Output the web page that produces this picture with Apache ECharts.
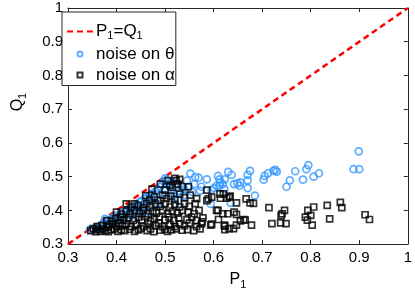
<!DOCTYPE html>
<html>
<head>
<meta charset="utf-8">
<script src="https://cdn.jsdelivr.net/npm/echarts@6/dist/echarts.min.js"></script>
<style>html,body{margin:0;padding:0;background:#fff;}#c{width:415px;height:295px;}</style>
</head>
<body>
<div id="c"></div>
<script>
// ---- data ----
const axisMin = 0.3, axisMax = 1, tickStep = 0.1;
const diagonal = [[0.3, 0.3], [1, 1]];
const seriesNames = ['P1=Q1', 'noise on θ', 'noise on α'];

const noiseTheta = [
  [0.345,0.342],[0.352,0.345],[0.358,0.350],[0.362,0.348],[0.368,0.356],[0.372,0.360],[0.378,0.362],
  [0.383,0.368],[0.388,0.372],[0.392,0.378],[0.397,0.380],[0.402,0.386],[0.405,0.375],[0.410,0.392],
  [0.415,0.395],[0.418,0.385],[0.422,0.402],[0.428,0.405],[0.432,0.398],[0.436,0.412],[0.440,0.418],
  [0.445,0.410],[0.448,0.425],[0.452,0.428],[0.455,0.418],[0.460,0.435],[0.463,0.440],[0.466,0.428],
  [0.470,0.445],[0.474,0.450],[0.477,0.438],[0.480,0.456],[0.484,0.462],[0.487,0.448],[0.490,0.470],
  [0.494,0.476],[0.497,0.486],[0.500,0.495],[0.503,0.490],[0.506,0.478],[0.510,0.470],[0.512,0.460],
  [0.515,0.485],[0.518,0.452],[0.520,0.440],[0.524,0.468],[0.527,0.430],[0.530,0.458],[0.534,0.475],
  [0.538,0.445],[0.540,0.462],[0.545,0.488],[0.548,0.470],[0.552,0.509],[0.556,0.455],[0.560,0.478],
  [0.562,0.499],[0.569,0.497],[0.572,0.458],[0.575,0.470],
  [0.430,0.385],[0.450,0.400],[0.470,0.415],[0.490,0.430],[0.500,0.445],[0.460,0.395],[0.440,0.390],
  [0.485,0.420],[0.395,0.362],[0.375,0.350],[0.420,0.370],[0.406,0.371],[0.376,0.375],
  [0.586,0.492],[0.596,0.461],[0.601,0.466],[0.606,0.473],[0.609,0.502],[0.612,0.492],[0.614,0.483],
  [0.612,0.473],[0.619,0.478],[0.622,0.463],[0.623,0.492],[0.630,0.514],[0.637,0.505],[0.594,0.419],
  [0.635,0.422],[0.642,0.478],[0.649,0.480],[0.653,0.473],[0.655,0.483],[0.670,0.466],[0.670,0.489],
  [0.670,0.505],[0.675,0.517],[0.685,0.444],[0.703,0.491],[0.705,0.502],[0.712,0.510],[0.723,0.517],
  [0.727,0.520],[0.730,0.515],[0.750,0.470],[0.757,0.489],[0.768,0.516],[0.784,0.491],[0.791,0.522],
  [0.795,0.534],[0.806,0.500],[0.817,0.510],[0.888,0.522],[0.900,0.522],[0.899,0.575]
];

const noiseAlpha = [
  [0.347,0.340],[0.352,0.346],[0.357,0.337],[0.362,0.343],[0.367,0.338],[0.372,0.345],[0.377,0.340],
  [0.383,0.337],[0.389,0.342],[0.395,0.345],[0.403,0.338],[0.410,0.342],[0.417,0.340],[0.427,0.344],
  [0.437,0.338],[0.445,0.342],[0.450,0.346],[0.463,0.340],[0.470,0.345],[0.477,0.337],[0.490,0.341],
  [0.499,0.344],[0.505,0.338],[0.513,0.342],[0.523,0.345],[0.535,0.341],[0.546,0.343],[0.559,0.340],
  [0.572,0.345],[0.565,0.352],
  [0.360,0.352],[0.370,0.355],[0.380,0.350],[0.385,0.358],[0.392,0.360],[0.400,0.352],[0.405,0.362],
  [0.412,0.355],[0.420,0.360],[0.430,0.352],[0.440,0.358],[0.455,0.352],[0.465,0.360],[0.480,0.355],
  [0.487,0.362],[0.495,0.352],[0.510,0.358],[0.520,0.352],[0.530,0.360],[0.540,0.355],[0.550,0.362],
  [0.575,0.360],
  [0.380,0.370],[0.390,0.368],[0.398,0.375],[0.408,0.380],[0.415,0.372],[0.425,0.378],[0.435,0.370],
  [0.445,0.380],[0.452,0.372],[0.460,0.382],[0.470,0.368],[0.478,0.375],[0.488,0.380],[0.500,0.372],
  [0.508,0.380],[0.518,0.370],[0.528,0.378],[0.545,0.372],[0.555,0.380],[0.565,0.370],[0.578,0.378],
  [0.400,0.395],[0.410,0.388],[0.420,0.398],[0.428,0.390],[0.437,0.400],[0.447,0.392],[0.455,0.400],
  [0.465,0.390],[0.475,0.398],[0.482,0.392],[0.495,0.400],[0.505,0.390],[0.515,0.398],[0.525,0.392],
  [0.535,0.400],[0.548,0.395],[0.560,0.390],[0.570,0.400],
  [0.420,0.419],[0.430,0.410],[0.437,0.419],[0.445,0.415],[0.455,0.408],[0.462,0.420],[0.470,0.410],
  [0.480,0.418],[0.490,0.412],[0.500,0.420],[0.510,0.410],[0.520,0.418],[0.530,0.410],[0.540,0.420],
  [0.550,0.412],[0.562,0.420],
  [0.460,0.444],[0.468,0.432],[0.478,0.440],[0.485,0.430],[0.495,0.445],[0.503,0.435],[0.512,0.442],
  [0.520,0.432],[0.530,0.448],[0.540,0.438],[0.552,0.445],[0.565,0.435],
  [0.473,0.463],[0.490,0.478],[0.500,0.460],[0.506,0.488],[0.515,0.468],[0.523,0.488],[0.526,0.478],
  [0.536,0.470],[0.548,0.470],[0.530,0.492],[0.520,0.495],[0.510,0.475],
  [0.586,0.429],[0.596,0.439],[0.609,0.400],[0.629,0.390],[0.613,0.449],[0.632,0.439],[0.632,0.346],
  [0.622,0.356],[0.596,0.359],[0.576,0.366],
  [0.586,0.460],[0.589,0.434],[0.594,0.356],[0.610,0.373],[0.606,0.400],[0.614,0.436],[0.619,0.390],
  [0.620,0.449],[0.623,0.353],[0.623,0.343],[0.627,0.436],[0.634,0.442],[0.642,0.395],[0.647,0.388],
  [0.641,0.346],[0.647,0.422],[0.647,0.356],[0.655,0.369],[0.662,0.373],[0.667,0.434],[0.665,0.371],
  [0.675,0.422],[0.682,0.421],[0.678,0.356],[0.714,0.408],[0.720,0.361],[0.738,0.363],[0.739,0.385],
  [0.741,0.390],[0.746,0.400],[0.749,0.361],[0.789,0.380],[0.793,0.371],[0.794,0.400],[0.800,0.385],
  [0.803,0.356],[0.806,0.410],[0.834,0.415],[0.839,0.375],[0.861,0.424],[0.864,0.408],[0.912,0.387],
  [0.921,0.373]
];

// ---- chart ----
const chart = echarts.init(document.getElementById('c'), null, {renderer: 'canvas'});
const FONT = 'Liberation Sans, Arial, Helvetica, sans-serif';
const AX = '#262626';
const fmt = v => String(+v.toFixed(1));

function axisCommon(extra) {
  return Object.assign({
    type: 'value', min: axisMin, max: axisMax, interval: tickStep,
    splitLine: {show: false},
    axisLine: {show: true, lineStyle: {color: AX, width: 1}},
    axisTick: {show: true, inside: true, length: 4, lineStyle: {color: AX}},
  }, extra);
}

const nameRich = {
  a: {fontFamily: FONT, fontSize: 16, color: '#000', lineHeight: 18, verticalAlign: 'top'},
  s: {fontFamily: FONT, fontSize: 11, color: '#000', lineHeight: 18, verticalAlign: 'bottom', padding: [9, 0, 0, 0]}
};

chart.setOption({
  backgroundColor: '#fff',
  animation: false,
  grid: {left: 58, right: 5, top: 8, bottom: 47, containLabel: false},
  xAxis: [
    axisCommon({
      position: 'bottom',
      axisLabel: {show: true, formatter: fmt, fontFamily: FONT, fontSize: 15, color: '#000', margin: 6},
      name: '{a|P}{s|1}', nameLocation: 'middle', nameGap: 24,
      nameTextStyle: {fontFamily: FONT, fontSize: 15, color: '#000', rich: nameRich}
    }),
    axisCommon({position: 'top', axisLabel: {show: false}})
  ],
  yAxis: [
    axisCommon({
      position: 'left',
      axisLabel: {show: true, formatter: fmt, fontFamily: FONT, fontSize: 15, color: '#000', margin: 5},
      name: '{a|Q}{s|1}', nameLocation: 'middle', nameGap: 40,
      nameTextStyle: {fontFamily: FONT, fontSize: 15, color: '#000', padding: [0, 0, 0, 48], rich: nameRich}
    }),
    axisCommon({position: 'right', axisLabel: {show: false}})
  ],
  legend: {
    show: true, orient: 'vertical', left: 62, top: 12,
    backgroundColor: '#fff', borderColor: AX, borderWidth: 1,
    padding: [11, 1, 2, 4], itemGap: 4, itemWidth: 26, itemHeight: 5,
    data: [
      {name: seriesNames[0], itemStyle: {opacity: 0}},
      {name: seriesNames[1]},
      {name: seriesNames[2], icon: 'path://M0 0H10V10H0Z'}
    ],
    formatter: function (name) {
      if (name === seriesNames[0]) return '{t|P}{s|1}{t|=Q}{s|1}';
      return '{t|' + name + '}';
    },
    textStyle: {
      fontFamily: FONT, fontSize: 17, color: '#000', padding: [0, 0, 0, -2],
      rich: {
        t: {fontFamily: FONT, fontSize: 17, color: '#000', lineHeight: 20},
        s: {fontFamily: FONT, fontSize: 11, color: '#000', lineHeight: 10, verticalAlign: 'bottom'}
      }
    }
  },
  series: [
    {
      name: seriesNames[0], type: 'line', data: diagonal, showSymbol: false, symbol: 'none',
      lineStyle: {color: '#ff0000', width: 2.5, type: [6, 4]}, itemStyle: {color: '#ff0000'},
      z: 1, silent: true
    },
    {
      name: seriesNames[1], type: 'scatter', data: noiseTheta, symbol: 'circle', symbolSize: 7,
      itemStyle: {color: 'rgba(0,0,0,0)', borderColor: '#3399ff', borderWidth: 1.7},
      z: 2
    },
    {
      name: seriesNames[2], type: 'scatter', data: noiseAlpha, symbol: 'rect', symbolSize: 6,
      itemStyle: {color: 'rgba(0,0,0,0)', borderColor: '#000000', borderWidth: 1.7},
      z: 3
    }
  ]
});
</script>
</body>
</html>
